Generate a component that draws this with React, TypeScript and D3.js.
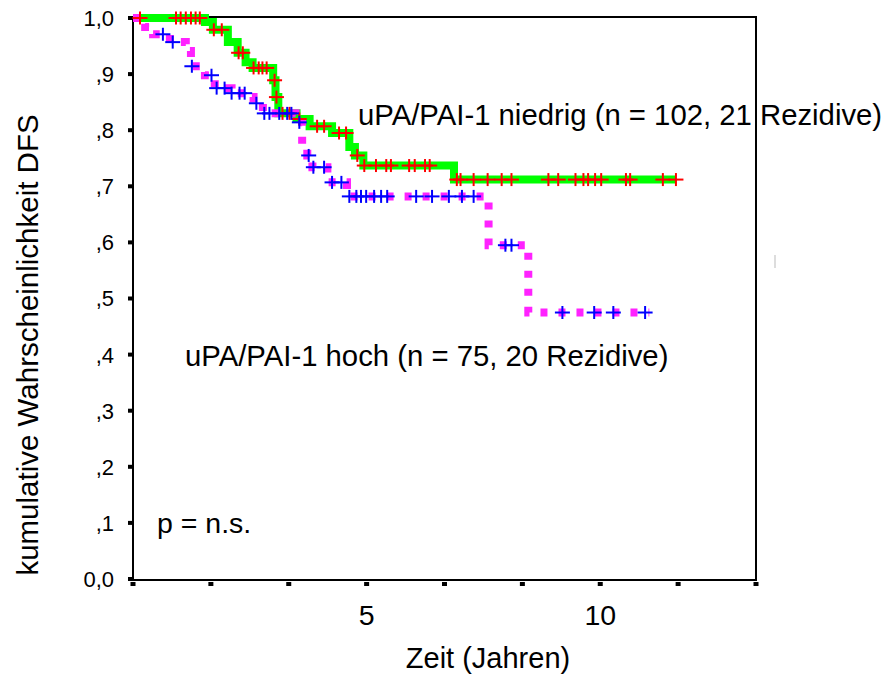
import React from "react";
import * as d3 from "d3";

// Kaplan-Meier steps: [time in years, survival]
const niedrigSteps: [number, number][] = [
  [0, 1.0], [1.54, 0.993], [1.71, 0.979], [2.03, 0.957], [2.24, 0.938], [2.41, 0.921],
  [2.56, 0.911], [3.0, 0.889], [3.05, 0.859], [3.11, 0.83], [3.5, 0.82], [3.78, 0.807],
  [4.26, 0.795], [4.63, 0.77], [4.75, 0.755], [4.93, 0.737], [6.87, 0.712],
];
const niedrigEnd = 11.62;
const niedrigCensored: number[] = [
  0.15, 0.92, 1.02, 1.13, 1.24, 1.34, 1.43, 1.73, 1.9, 2.26, 2.35, 2.58, 2.69, 2.77, 2.86,
  3.03, 3.07, 3.2, 3.35, 3.56, 3.94, 4.09, 4.41, 4.56, 4.8, 4.95, 5.2, 5.42, 5.52, 5.91,
  6.03, 6.25, 6.35, 6.93, 7.01, 7.29, 7.59, 7.89, 8.1, 8.89, 9.1, 9.47, 9.64, 9.74, 9.89,
  10.02, 10.55, 10.64, 11.34, 11.62,
];

const hochSteps: [number, number][] = [
  [0, 1.0], [0.26, 0.984], [0.43, 0.971], [0.79, 0.957], [1.13, 0.941], [1.24, 0.914],
  [1.54, 0.898], [1.75, 0.875], [2.11, 0.866], [2.41, 0.859], [2.58, 0.848], [2.78, 0.83],
  [3.48, 0.814], [3.62, 0.773], [3.73, 0.755], [3.84, 0.734], [4.16, 0.707], [4.58, 0.682],
  [7.61, 0.595], [8.46, 0.475],
];
const hochEnd = 11.05;
const hochCensored: number[] = [
  0.64, 0.85, 1.26, 1.68, 1.79, 1.96, 2.11, 2.28, 2.39, 2.64, 2.81, 2.92, 3.13, 3.3, 3.39,
  3.56, 3.76, 3.86, 4.09, 4.26, 4.46, 4.63, 4.78, 4.88, 4.99, 5.16, 5.31, 5.44, 6.06, 6.4,
  6.76, 7.04, 7.29, 7.97, 8.1, 9.19, 9.87, 10.28, 10.96,
];

const yTickValues = [1.0, 0.9, 0.8, 0.7, 0.6, 0.5, 0.4, 0.3, 0.2, 0.1, 0.0];
const yTickLabels = ["1,0", ",9", ",8", ",7", ",6", ",5", ",4", ",3", ",2", ",1", "0,0"];
const xTickValues = [0, 5 / 3, 10 / 3, 5, 20 / 3, 25 / 3, 10, 35 / 3, 40 / 3];
const xTickLabels = ["", "", "", "5", "", "", "10", "", ""];

const labelNiedrig = "uPA/PAI-1 niedrig (n = 102, 21 Rezidive)";
const labelHoch = "uPA/PAI-1 hoch (n = 75, 20 Rezidive)";
const labelP = "p = n.s.";
const xTitle = "Zeit (Jahren)";
const yTitle = "kumulative Wahrscheinlichkeit DFS";

const FONT = "'Liberation Sans', Arial, Helvetica, sans-serif";

function survivalAt(steps: [number, number][], t: number): number {
  let s = steps[0][1];
  for (const [tt, ss] of steps) if (tt <= t) s = ss;
  return s;
}

export default function App() {
  const W = 887;
  const H = 681;
  const left = 133, right = 756, top = 18, bottom = 579;
  const x = d3.scaleLinear().domain([0, 40 / 3]).range([left, right]);
  const y = d3.scaleLinear().domain([0, 1]).range([bottom, top]);

  const line = d3
    .line<[number, number]>()
    .x((d) => x(d[0]))
    .y((d) => y(d[1]))
    .curve(d3.curveStepAfter);

  const nPts: [number, number][] = [...niedrigSteps, [niedrigEnd, niedrigSteps[niedrigSteps.length - 1][1]]];
  const hPts: [number, number][] = [...hochSteps, [hochEnd, hochSteps[hochSteps.length - 1][1]]];

  const plus = (cx: number, cy: number, color: string, key: string) => (
    <g key={key} stroke={color} strokeWidth={2}>
      <line x1={cx - 7.5} x2={cx + 7.5} y1={cy} y2={cy} />
      <line x1={cx} x2={cx} y1={cy - 6.5} y2={cy + 6.5} />
    </g>
  );

  return (
    <svg
      width={W}
      height={H}
      style={{ position: "absolute", left: 0, top: 0, background: "#fff" }}
      fontFamily={FONT}
    >
      <rect x={0} y={0} width={W} height={H} fill="#fff" />
      {/* frame */}
      <rect x={left} y={17} width={right - left} height={580 - 17} fill="none" stroke="#000" strokeWidth={2} />
      {/* y ticks */}
      {yTickValues.map((v, i) => (
        <g key={"yt" + i}>
          <rect x={left - 5} y={y(v) - 2} width={5} height={4} fill="#000" />
          <text x={114} y={y(v)} dy="0.36em" textAnchor="end" fontSize={22} fill="#000">
            {yTickLabels[i]}
          </text>
        </g>
      ))}
      {/* x ticks */}
      {xTickValues.map((v, i) => (
        <g key={"xt" + i}>
          <rect x={x(v) - 2.5} y={582} width={5} height={4} fill="#000" />
          {xTickLabels[i] && (
            <text x={x(v)} y={625} textAnchor="middle" fontSize={28.5} fill="#000">
              {xTickLabels[i]}
            </text>
          )}
        </g>
      ))}
      {/* curves */}
      <path d={line(nPts) || ""} fill="none" stroke="#00ff00" strokeWidth={8} />
      <path d={line(hPts) || ""} fill="none" stroke="#ff22ff" strokeWidth={8} strokeDasharray="7,11" />
      {niedrigCensored.map((t, i) => plus(x(t), y(survivalAt(niedrigSteps, t)), "#ff0000", "r" + i))}
      {hochCensored.map((t, i) => plus(x(t), y(survivalAt(hochSteps, t)), "#0000ff", "b" + i))}
      {/* annotations */}
      <text x={358} y={125} fontSize={29.3} fill="#000">{labelNiedrig}</text>
      <text x={185} y={366} fontSize={29.3} fill="#000">{labelHoch}</text>
      <text x={157} y={533} fontSize={28.5} fill="#000">{labelP}</text>
      <text x={488} y={668} textAnchor="middle" fontSize={29} fill="#000">{xTitle}</text>
      <text
        transform={`translate(38,345) rotate(-90)`}
        textAnchor="middle"
        fontSize={29.5}
        fill="#000"
      >
        {yTitle}
      </text>
      <line x1={775} x2={775} y1={255} y2={268} stroke="#bbb" strokeWidth={1} />
    </svg>
  );
}
